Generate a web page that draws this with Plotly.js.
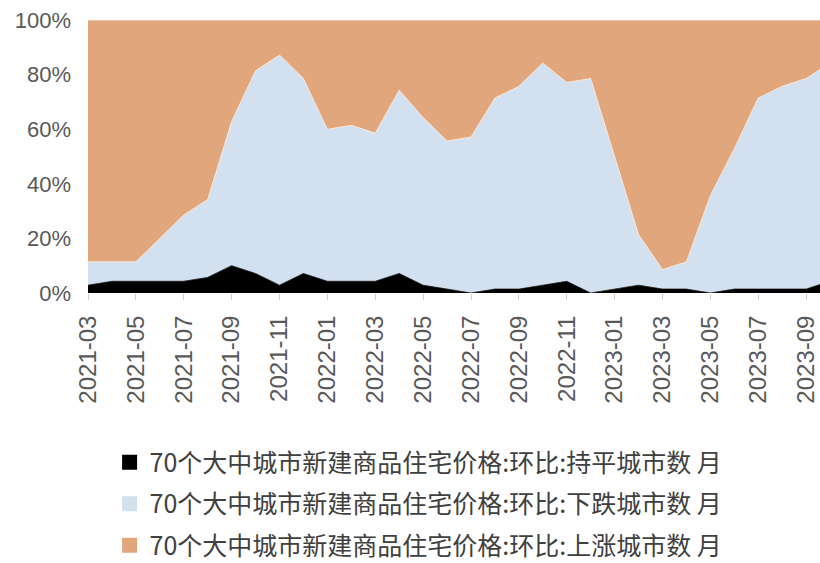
<!DOCTYPE html>
<html>
<head>
<meta charset="utf-8">
<script src="https://cdn.plot.ly/plotly-3.0.1.min.js"></script>
<style>
  html, body { margin: 0; padding: 0; background: #ffffff; overflow: hidden; }
  #chart { width: 820px; height: 585px; }
</style>
</head>
<body>
<div id="chart"></div>
<script>
// Months (category axis)
const months = [
  '2021-03','2021-04','2021-05','2021-06','2021-07','2021-08','2021-09','2021-10','2021-11','2021-12',
  '2022-01','2022-02','2022-03','2022-04','2022-05','2022-06','2022-07','2022-08','2022-09','2022-10','2022-11','2022-12',
  '2023-01','2023-02','2023-03','2023-04','2023-05','2023-06','2023-07','2023-08','2023-09','2023-10'
];
// Number of cities (of 70): flat / down / up month-on-month
const flatCities = [2,3,3,3,3,4,7,5,2,5, 3,3,3,5,2,1,0,1,1,2,3,0, 1,2,1,1,0,1,1,1,1,3];
const downCities = [6,5,5,11,17,20,37,52,59,50, 39,40,38,47,43,38,40,49,52,57,51,55, 34,13,5,7,25,36,49,52,54,56];
const upCities   = [62,62,62,56,50,46,26,13,9,15, 28,27,29,18,25,31,30,20,17,11,16,15, 35,55,64,62,45,33,20,17,15,11];

const seriesNames = [
  '70个大中城市新建商品住宅价格:环比:持平城市数 月',
  '70个大中城市新建商品住宅价格:环比:下跌城市数 月',
  '70个大中城市新建商品住宅价格:环比:上涨城市数 月'
];
const tickMonths = months.filter((m, i) => i % 2 === 0);

const colors = ['#000000', '#d3e0ef', '#e2a67c'];
const seriesData = [flatCities, downCities, upCities];

const traces = [];
seriesData.forEach((vals, k) => {
  traces.push({
    type: 'scatter',
    x: months,
    y: vals,
    name: seriesNames[k],
    stackgroup: 'one',
    groupnorm: 'percent',
    mode: 'lines',
    line: { width: 0.8, color: k === 0 ? '#000000' : 'rgba(255,240,225,0.9)', shape: 'linear' },
    fillcolor: colors[k],
    showlegend: false,
    hoverinfo: 'x+y+name'
  });
});
// legend-only square markers
seriesNames.forEach((nm, k) => {
  traces.push({
    type: 'scatter',
    x: [null], y: [null],
    mode: 'markers',
    name: nm,
    marker: { symbol: 'square', size: 15, color: colors[k] },
    legendgroup: 'g' + k,
    showlegend: true,
    hoverinfo: 'skip'
  });
});

const layout = {
  width: 820,
  height: 585,
  margin: { l: 88, r: 0, t: 20, b: 292 },
  paper_bgcolor: '#ffffff',
  plot_bgcolor: '#ffffff',
  font: { family: 'Liberation Sans, Arial, "Noto Sans CJK SC", sans-serif', color: '#595959' },
  showlegend: true,
  xaxis: {
    type: 'category',
    range: [0, 30.58],
    tickmode: 'array',
    tickvals: tickMonths,
    ticktext: tickMonths,
    tickangle: -90,
    ticks: 'outside',
    ticklen: 6,
    tickcolor: '#d0d0d0',
    ticklabelstandoff: 6,
    tickfont: { size: 24, color: '#595959' },
    showgrid: false,
    zeroline: false,
    showline: false,
    automargin: false,
    fixedrange: true
  },
  yaxis: {
    range: [0, 100],
    tickvals: [0, 20, 40, 60, 80, 100],
    ticktext: ['0%', '20%', '40%', '60%', '80%', '100%'],
    tickfont: { size: 22, color: '#595959' },
    ticks: '',
    ticklabelstandoff: 16,
    showgrid: false,
    zeroline: false,
    showline: false,
    automargin: false,
    fixedrange: true
  },
  legend: {
    orientation: 'v',
    x: 0.0295,
    xanchor: 'left',
    y: -0.5365,
    yanchor: 'top',
    traceorder: 'grouped',
    tracegroupgap: 6,
    font: { size: 25, color: '#404040', family: '"Noto Sans CJK SC", "Liberation Sans", sans-serif' },
    bgcolor: 'rgba(0,0,0,0)'
  },
  hovermode: false
};

Plotly.newPlot('chart', traces, layout, { displayModeBar: false, staticPlot: true });
</script>
</body>
</html>
